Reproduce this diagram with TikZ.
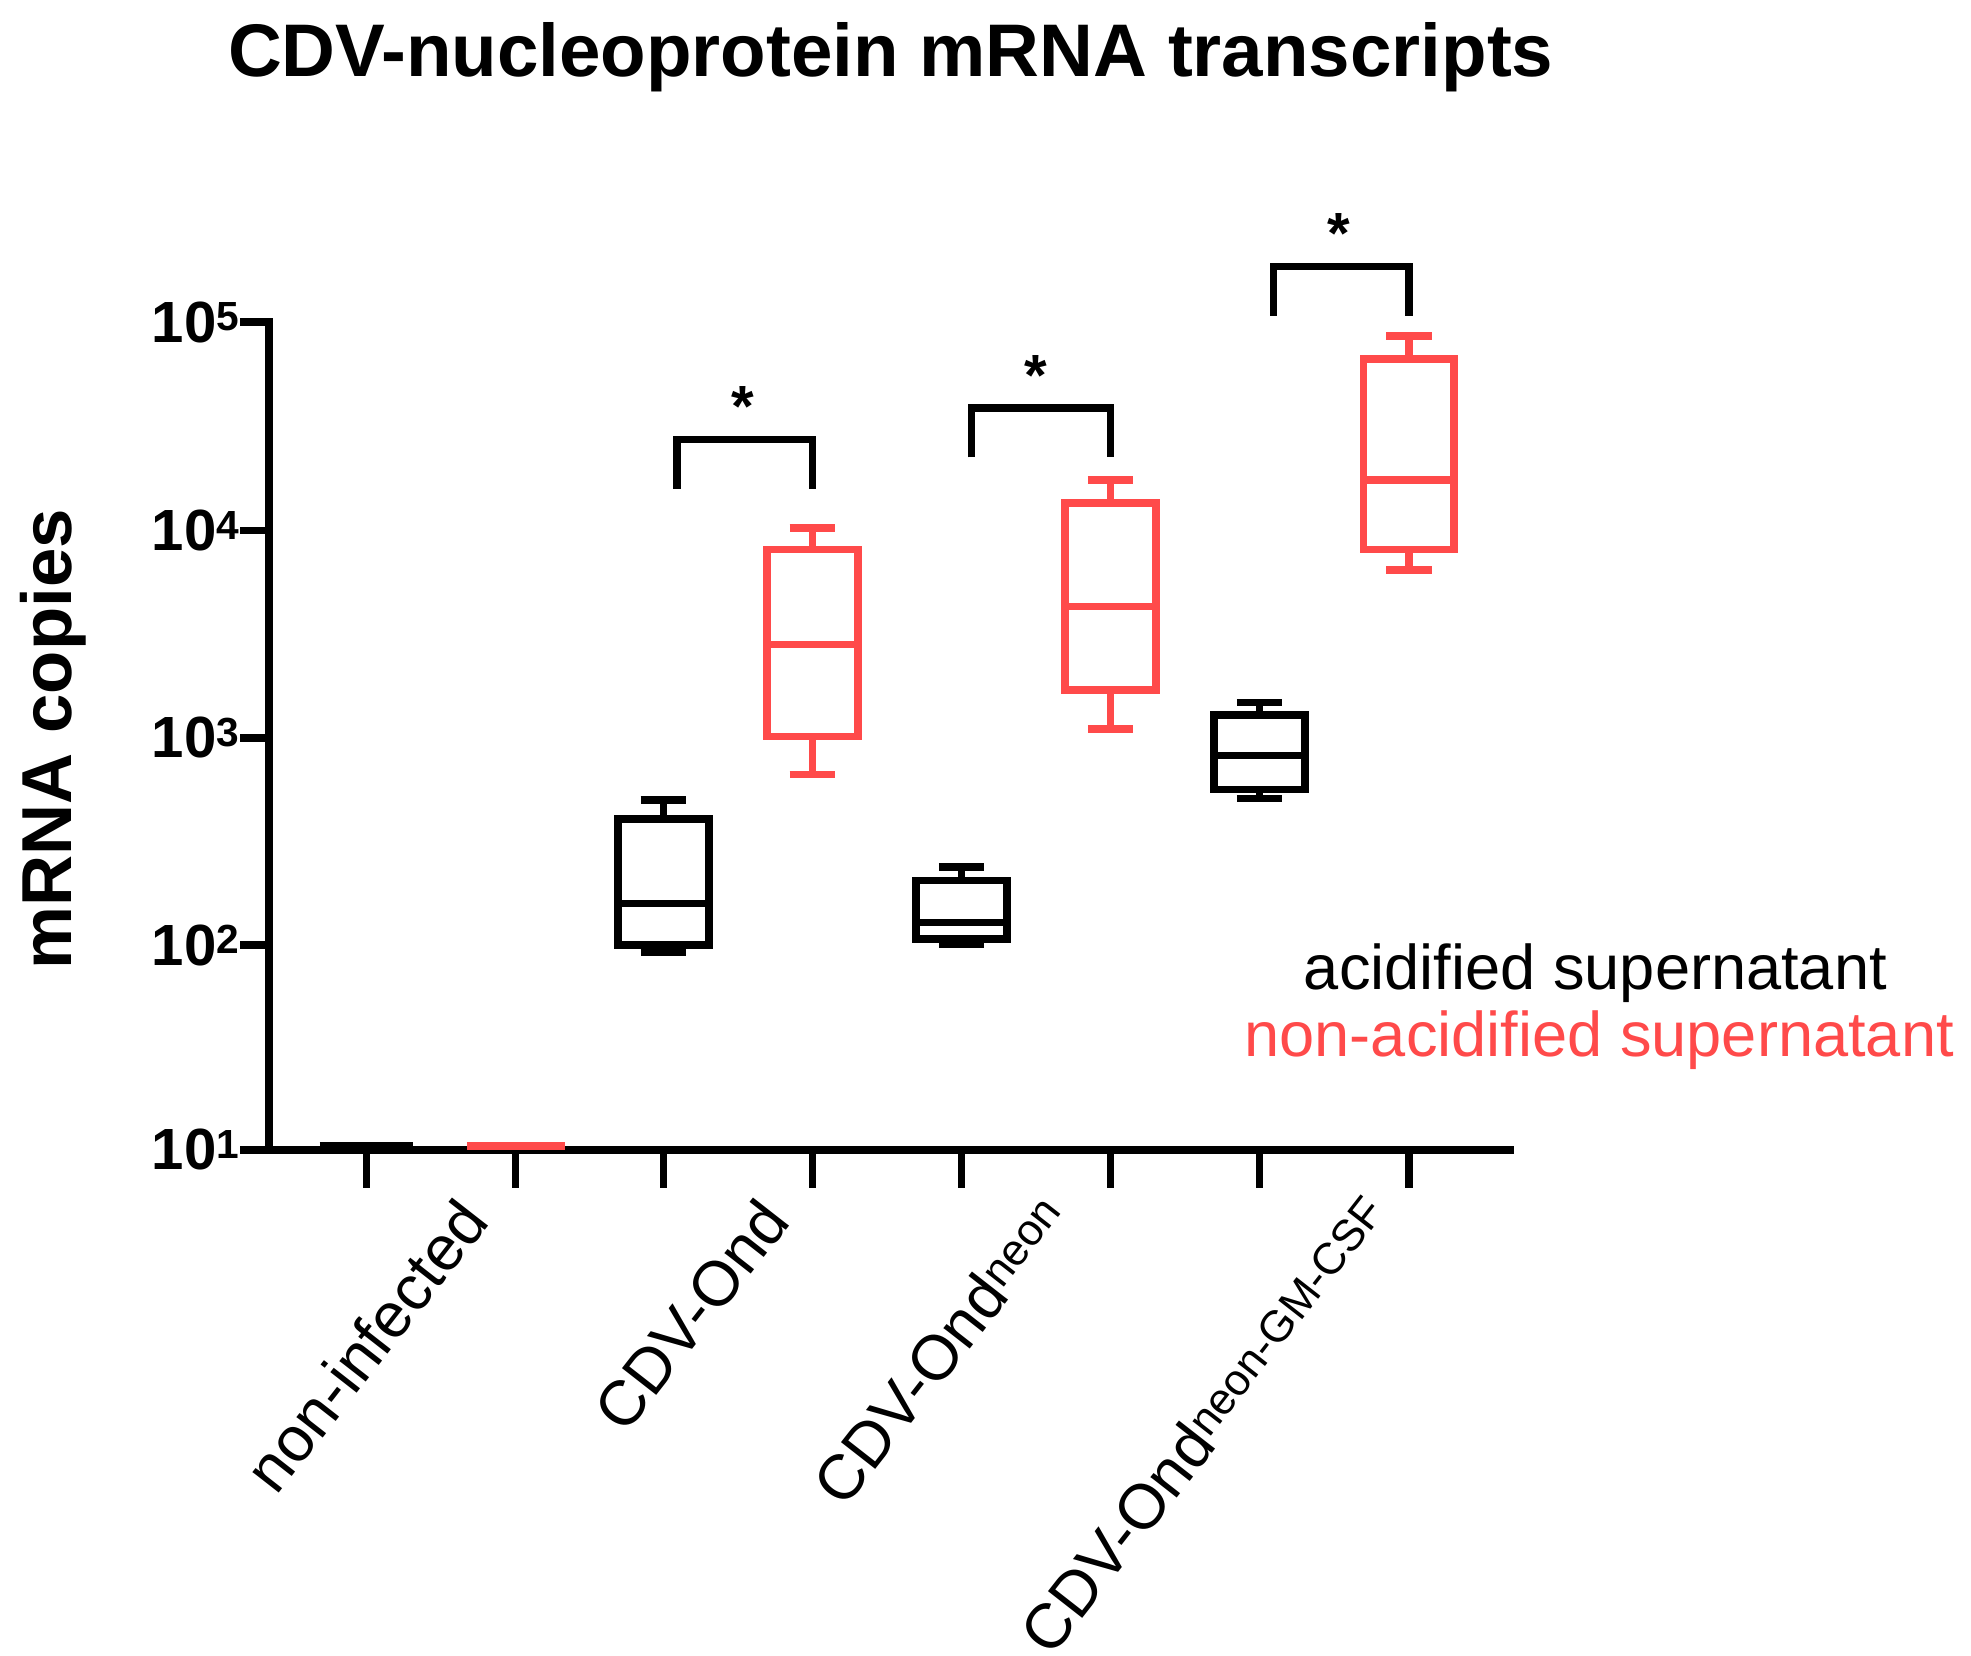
\documentclass[tikz,border=0pt]{standalone}
\usepackage{fontspec}
\setmainfont{Liberation Sans}
\definecolor{rd}{HTML}{FF4A4A}
\begin{document}
\begin{tikzpicture}[x=1pt,y=-1pt,
 ax/.style={line width=6pt},
 bx/.style={line width=6pt},
 lab/.style={font=\fontsize{50}{54}\selectfont},
 xl/.style={lab,rotate=52,anchor=north east,inner sep=0}]
\useasboundingbox (0,0) rectangle (1560,1310);
\node[font=\bfseries\fontsize{59}{62}\selectfont] (title) at (705,45) {CDV-nucleoprotein mRNA transcripts};
\node[font=\bfseries\fontsize{56}{60}\selectfont,rotate=90] (ylab) at (42,585) {mRNA copies};
\draw[ax] (213,252) -- (213,910) -- (1198,910);
\foreach \y/\e in {255/5,420/4,584/3,748/2,910/1}{
 \draw[ax] (213,\y) -- (190,\y);
 \node[anchor=east,font=\bfseries\fontsize{46}{50}\selectfont,inner sep=2pt] at (192,\y) {10\textsuperscript{\e}};}
\foreach \x in {290,408,525,643,761,879,997,1115}{\draw[ax] (\x,910) -- (\x,940);}
\draw[bx] (253,907) -- (327,907);
\draw[bx,rd] (370,907) -- (447,907);
\newcommand\mybox[7]{%
 \draw[bx,#7] (#1-36,#3) rectangle (#1+36,#5);
 \draw[bx,#7] (#1-36,#4) -- (#1+36,#4);
 \draw[bx,#7] (#1,#3) -- (#1,#2) (#1-18,#2) -- (#1+18,#2);
 \draw[bx,#7] (#1,#5) -- (#1,#6) (#1-18,#6) -- (#1+18,#6);}
\mybox{525}{633}{648}{715}{748}{754}{black}
\mybox{643}{418}{435}{510}{583}{613}{rd}
\mybox{761}{686}{697}{730}{743}{747}{black}
\mybox{879}{380}{398}{480}{546}{577}{rd}
\mybox{997}{556}{566}{598}{625}{632}{black}
\mybox{1115}{266}{284}{380}{435}{451}{rd}
\draw[bx] (536,387) -- (536,348) -- (643,348) -- (643,387);
\node[font=\bfseries\fontsize{46}{50}\selectfont] (s1) at (588,322) {*};
\draw[bx] (769,362) -- (769,323) -- (879,323) -- (879,362);
\node[font=\bfseries\fontsize{46}{50}\selectfont] (s2) at (820,297) {*};
\draw[bx] (1008,250) -- (1008,211) -- (1115,211) -- (1115,250);
\node[font=\bfseries\fontsize{46}{50}\selectfont] (s3) at (1060,185) {*};
\node[lab,anchor=east] (l1) at (1497,770) {acidified supernatant};
\node[lab,anchor=east,text=rd] (l2) at (1550,823) {non-acidified supernatant};
\node[xl] at (360,945) {non-infected};
\node[xl] at (598,945) {CDV-Ond};
\node[xl] at (820,942) {CDV-Ond\textsuperscript{neon}};
\node[xl] at (1076,942) {CDV-Ond\textsuperscript{neon-GM-CSF}};
\end{tikzpicture}
\end{document}
